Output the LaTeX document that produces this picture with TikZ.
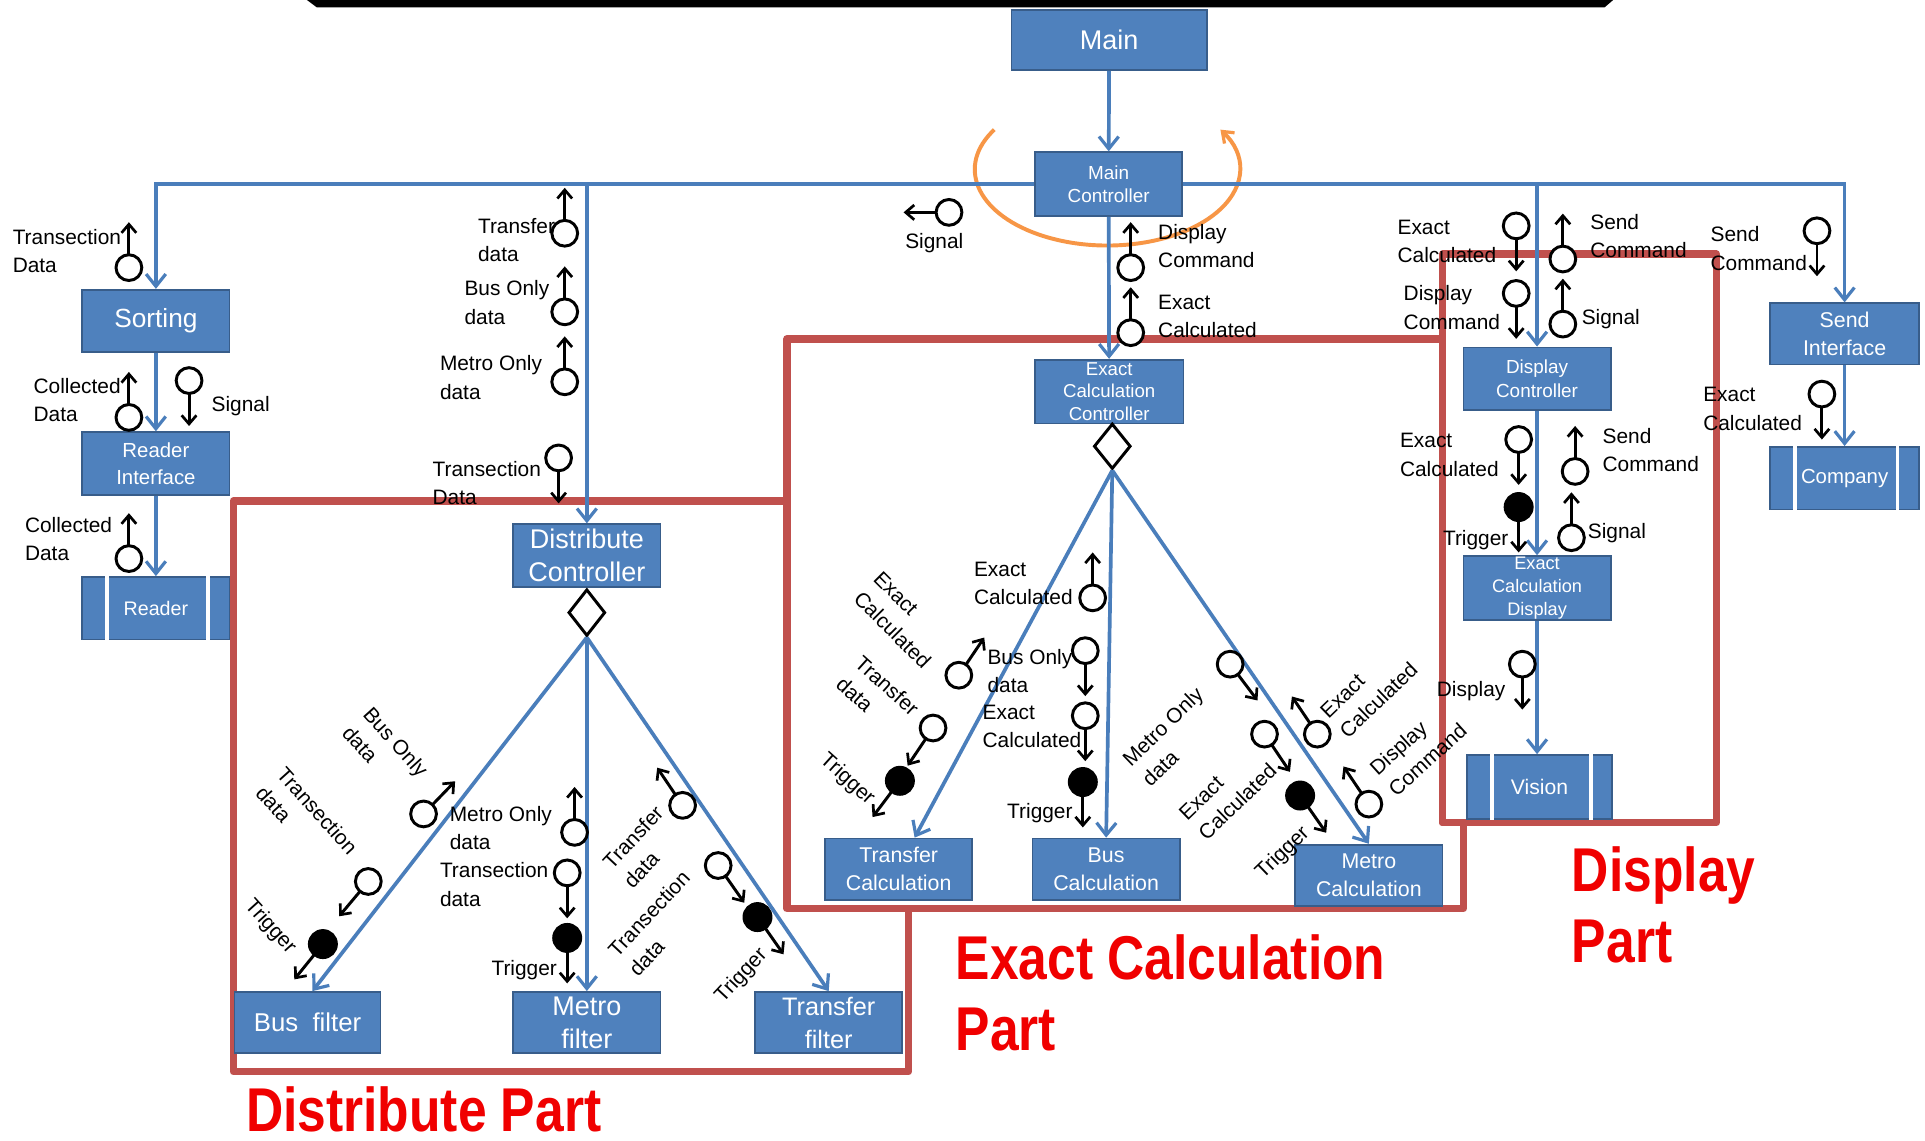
\documentclass[tikz,border=0pt]{standalone}
\usepackage{fontspec}
\setmainfont{Liberation Sans}
\usetikzlibrary{arrows.meta,shapes.geometric,calc}
\definecolor{bfill}{RGB}{79,129,189}
\definecolor{bdr}{RGB}{56,93,138}
\definecolor{bline}{RGB}{74,126,187}
\definecolor{rframe}{RGB}{192,80,77}
\definecolor{ptred}{RGB}{240,0,0}
\definecolor{orng}{RGB}{247,150,70}
\newcommand{\fs}[2]{\fontsize{#1}{#2}\selectfont}
\tikzset{
 blk/.style={draw=bdr, fill=bfill, text=white, line width=0.7pt, inner sep=0pt, align=center, minimum width=60pt, minimum height=25.5pt},
 barr/.style={draw=bline, line width=1.5pt, -{Straight Barb[length=5pt,width=8pt,line width=1.3pt]}},
 lol/.style={circle, draw=black, fill=white, line width=1.2pt, minimum size=10.5pt, inner sep=0pt},
 lolf/.style={circle, draw=black, fill=black, line width=1.2pt, minimum size=11pt, inner sep=0pt},
 larr/.style={draw=black, line width=1.2pt, -{Straight Barb[length=3.5pt,width=6pt,line width=1.1pt]}},
 lbl/.style={font=\fs{8.5}{11.5}, align=left, inner sep=0pt},
 frame/.style={draw=rframe, line width=3pt, line join=round},
 part/.style={font=\bfseries\fs{21}{29}, text=ptred, align=left, inner sep=0pt},
 dia/.style={diamond, draw=black, fill=white, line width=1.2pt, minimum width=15pt, minimum height=19pt, inner sep=0pt},
}
\newcommand{\lolli}[4][lol]{%
  \node[#1] (#2) at (#3) {};
  \coordinate (#2t) at ($(#2)+(#4:37)$);
  \draw[larr] ($(#2)+(#4:10.5)$) -- (#2t);
}
\newcommand{\ppbars}[1]{\draw[white, line width=1.5pt] ($(#1.north west)+(21,0)$) -- ($(#1.south west)+(21,0)$) ($(#1.north east)+(-18,0)$) -- ($(#1.south east)+(-18,0)$);}
\begin{document}
\begin{tikzpicture}[x=0.5pt,y=-0.5pt]
\useasboundingbox (0,0) rectangle (1568,929);
\fill[white] (0,0) rectangle (1568,929);
\fill[black] (250,0) -- (1314,0) -- (1307,6) -- (258,6) -- cycle;
% frames
\draw[frame] (641,408) -- (190,408) -- (190,873) -- (740,873) -- (740,740);
\draw[frame] (641,276) -- (1175,276) -- (1175,670) -- (1192,670) -- (1192,740) -- (641,740) -- cycle;
\draw[frame] (1175,207) rectangle (1398,670);
% orange loop
\coordinate (oc) at (902,138);
\draw[orng, line width=1.6pt, -{Straight Barb[length=4pt,width=6pt,line width=1.3pt]}] (oc) ++(211.5:108 and 62) arc[start angle=211.5, end angle=-31.5, x radius=108, y radius=62];
% boxes
\node[blk, minimum width=79.5pt, minimum height=24.5pt, font=\fs{11}{13}] (main) at (903.5,32.5) {Main};
\node[blk, minimum height=26pt, font=\fs{7.7}{9.5}] (mc) at (903,150) {Main\\Controller};
\node[blk, font=\fs{10.7}{13}] (sort) at (127,261.5) {Sorting};
\node[blk, font=\fs{8.3}{11}] (ri) at (127,377.5) {Reader\\Interface};
\node[blk, font=\fs{8}{10}] (rd) at (127,495.5) {Reader};
\ppbars{rd}
\node[blk, font=\fs{11}{13.5}] (dc) at (478,452.5) {Distribute\\Controller};
\node[blk, minimum width=59.5pt, minimum height=25pt, font=\fs{10.5}{13}] (bf) at (250.5,833) {Bus~~filter};
\node[blk, minimum height=25pt, font=\fs{11}{13.5}] (mf) at (478,833) {Metro\\filter};
\node[blk, minimum height=25pt, font=\fs{10.3}{13.5}] (tf) at (675,833) {Transfer\\filter};
\node[blk, minimum width=60.5pt, minimum height=26pt, font=\fs{7.6}{9.25}] (ecc) at (903.5,319) {Exact\\Calculation\\Controller};
\node[blk, minimum height=25pt, font=\fs{8.7}{11.5}] (tc) at (732,708) {Transfer\\Calculation};
\node[blk, minimum height=25pt, font=\fs{8.7}{11.5}] (bc) at (901,708) {Bus\\Calculation};
\node[blk, minimum height=25pt, font=\fs{8.7}{11.5}] (mcal) at (1115,713) {Metro\\Calculation};
\node[blk, font=\fs{7.7}{9.5}] (disc) at (1252,308.5) {Display\\Controller};
\node[blk, minimum height=26pt, font=\fs{7.4}{9.25}] (ecd) at (1252,479) {Exact\\Calculation\\Display};
\node[blk, minimum width=59pt, minimum height=26pt, font=\fs{8.6}{10}] (vis) at (1254,641) {Vision};
\ppbars{vis}
\node[blk, minimum width=60.5pt, minimum height=25pt, font=\fs{8.7}{11.5}] (si) at (1502.5,272) {Send\\Interface};
\node[blk, minimum width=60.5pt, font=\fs{8.3}{10}] (comp) at (1502.5,389.5) {Company};
\ppbars{comp}
\node[dia] (dd) at (478,499) {};
\node[dia, minimum height=18.5pt] (ed) at (906,363.5) {};
% blue connectors
\draw[barr] (main) -- (mc);
\draw[barr] (mc.west) -| (sort.north);
\draw[barr] (mc.east) -| (si.north);
\draw[barr] (dc.north |- mc.west) -- (dc.north);
\draw[barr] (disc.north |- mc.east) -- (disc.north);
\draw[barr] (sort) -- (ri);
\draw[barr] (ri) -- (rd);
\draw[barr] (mc) -- (ecc);
\draw[barr] (disc) -- (ecd);
\draw[barr] (ecd.south) -- (ecd.south |- vis.north);
\draw[barr] (si) -- (comp);
\draw[barr] (dd.south) -- ([xshift=2pt]bf.north);
\draw[barr] (dd.south) -- (mf.north);
\draw[barr] (dd.south) -- (tf.north);
\draw[barr] (ed.south) -- ([xshift=6.5pt]tc.north);
\draw[barr] (ed.south) -- (bc.north);
\draw[barr] (ed.south) -- (mcal.north);
% lollipops
\lolli{l1}{105,218}{270}
\lolli{l2}{105,340}{270}
\lolli{l3}{154,310}{90}
\lolli{l4}{105,455}{270}
\lolli{l5}{460,190}{270}
\lolli{l6}{460,254}{270}
\lolli{l7}{460,311}{270}
\lolli{l8}{455,373}{90}
\lolli{l9}{773,173}{180}
\lolli{l10}{921,218}{270}
\lolli{l11}{921,271}{270}
\lolli{l12}{1235,184}{90}
\lolli{l13}{1235,239}{90}
\lolli{l14}{1273,211}{270}
\lolli{l15}{1273,264}{270}
\lolli{l16}{1480,188}{90}
\lolli{l17}{1484,321}{90}
\lolli{l18}{1237,358}{90}
\lolli[lolf]{l19}{1237,413}{90}
\lolli{l20}{1283,384}{270}
\lolli{l21}{1280,438}{270}
\lolli{l22}{1240,541}{90}
\lolli{l23}{345,663}{-46}
\lolli{l24}{300,718}{130}
\lolli[lolf]{l25}{263,769}{129}
\lolli{l26}{468,678}{270}
\lolli{l27}{462,711}{90}
\lolli[lolf]{l28}{462,764}{90}
\lolli{l29}{556,656}{236}
\lolli{l30}{585,705}{55}
\lolli[lolf]{l31}{617,747}{55}
\lolli{l32}{781,550}{-56}
\lolli{l33}{760,593}{124}
\lolli[lolf]{l34}{733,636}{127}
\lolli{l35}{890,487}{270}
\lolli{l36}{884,530}{90}
\lolli{l37}{884,583}{90}
\lolli[lolf]{l38}{882,637}{90}
\lolli{l39}{1002,541}{53}
\lolli{l40}{1030,598}{56}
\lolli[lolf]{l41}{1059,648}{55}
\lolli{l42}{1073,598}{236}
\lolli{l43}{1115,655}{236}
% plain labels
\node[lbl, anchor=west] (t1) at (10,204.5) {Transection\\Data};
\node[lbl, anchor=west] (t2) at (27,326) {Collected\\Data};
\node[lbl, anchor=west] (t3) at (172,331) {Signal};
\node[lbl, anchor=west] (t4) at (20,439) {Collected\\Data};
\node[lbl, anchor=west] (t5) at (389,195.5) {Transfer\\data};
\node[lbl, anchor=west] (t6) at (378,246.5) {Bus Only\\data};
\node[lbl, anchor=west] (t7) at (358,307.5) {Metro Only\\data};
\node[lbl, anchor=west] (t8) at (352,393.5) {Transection\\Data};
\node[lbl, anchor=west] (t9) at (737,198) {Signal};
\node[lbl, anchor=west] (t10) at (943,200.5) {Display\\Command};
\node[lbl, anchor=west] (t11) at (943,257.5) {Exact\\Calculated};
\node[lbl, anchor=west] (t12) at (1138,196.5) {Exact\\Calculated};
\node[lbl, anchor=west] (t13) at (1143,250.5) {Display\\Command};
\node[lbl, anchor=west] (t14) at (1295,192.5) {Send\\Command};
\node[lbl, anchor=west] (t15) at (1288,260) {Signal};
\node[lbl, anchor=west] (t16) at (1393,202.5) {Send\\Command};
\node[lbl, anchor=west] (t17) at (1387,333) {Exact\\Calculated};
\node[lbl, anchor=west] (t18) at (1140,370.5) {Exact\\Calculated};
\node[lbl, anchor=west] (t19) at (1175,440) {Trigger};
\node[lbl, anchor=west] (t20) at (1305,366.5) {Send\\Command};
\node[lbl, anchor=west] (t21) at (1293,434) {Signal};
\node[lbl, anchor=west] (t22) at (1170,563) {Display};
\node[lbl, anchor=west] (t23) at (366,674.5) {Metro Only\\data};
\node[lbl, anchor=west] (t24) at (358,720.5) {Transection\\data};
\node[lbl, anchor=west] (t25) at (400,790) {Trigger};
\node[lbl, anchor=west] (t26) at (793,475.5) {Exact\\Calculated};
\node[lbl, anchor=west] (t27) at (804,546.5) {Bus Only\\data};
\node[lbl, anchor=west] (t28) at (800,591.5) {Exact\\Calculated};
\node[lbl, anchor=west] (t29) at (820,662) {Trigger};
% rotated labels
\node[lbl, rotate=-48] (r1) at (314,612) {Bus Only\\data};
\node[lbl, rotate=-48] (r2) at (250,668) {Transection\\data};
\node[lbl, rotate=-48] (r3) at (220,755) {Trigger};
\node[lbl, rotate=47] (r4) at (524,690) {Transfer\\data};
\node[lbl, rotate=47] (r5) at (537,752) {Transection\\data};
\node[lbl, rotate=47] (r6) at (604,795) {Trigger};
\node[lbl, rotate=-45] (r7) at (735,505) {Exact\\Calculated};
\node[lbl, rotate=-42] (r8) at (715,567) {Transfer\\data};
\node[lbl, rotate=-42] (r9) at (690,635) {Trigger};
\node[lbl, rotate=44] (r10) at (955,600) {Metro Only\\data};
\node[lbl, rotate=44] (r11) at (1000,645) {Exact\\Calculated};
\node[lbl, rotate=44] (r12) at (1045,695) {Trigger};
\node[lbl, rotate=44] (r13) at (1115,562) {Exact\\Calculated};
\node[lbl, rotate=42] (r14) at (1155,610) {Display\\Command};
% part titles
\node[part, anchor=base west] (p1) at (200,922) {\scalebox{1}[1.2]{Distribute Part}};
\node[part, anchor=west] (p2) at (778,809) {\scalebox{1}[1.2]{Exact Calculation}\\\scalebox{1}[1.2]{Part}};
\node[part, anchor=west] (p3) at (1280,737) {\scalebox{1}[1.2]{Display}\\\scalebox{1}[1.2]{Part}};
\end{tikzpicture}
\end{document}
